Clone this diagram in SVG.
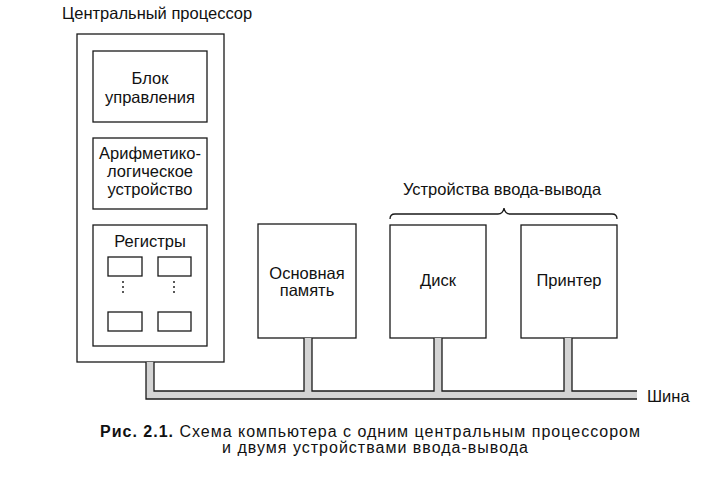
<svg xmlns="http://www.w3.org/2000/svg" width="724" height="484" viewBox="0 0 724 484">
<style>
.box{fill:#fff;stroke:#1a1a1a;stroke-width:1.3}
.t{font-family:"Liberation Sans",Arial,sans-serif;font-size:16.5px;fill:#111;text-anchor:middle}
.tl{font-family:"Liberation Sans",Arial,sans-serif;font-size:16.5px;fill:#111}
.cap{font-family:"Liberation Sans",Arial,sans-serif;font-size:16px;fill:#111}
.ln{fill:none;stroke:#1a1a1a;stroke-width:1.3}
.dot{fill:#222}
</style>
<rect width="724" height="484" fill="#fff"/>
<text class="tl" x="62" y="19">Центральный процессор</text>

<g id="cpu">
<rect class="box" x="77" y="34" width="147" height="328"/>
</g>
<g id="control-unit">
<rect class="box" x="93" y="51" width="114" height="71"/>
<text class="t" x="150" y="84">Блок</text>
<text class="t" x="150" y="103">управления</text>
</g>
<g id="alu">
<rect class="box" x="93" y="138" width="114" height="71"/>
<text class="t" x="150" y="159">Арифметико-</text>
<text class="t" x="150" y="177">логическое</text>
<text class="t" x="150" y="195">устройство</text>
</g>
<g id="registers">
<rect class="box" x="93" y="225" width="114" height="121"/>
<text class="t" x="150" y="247">Регистры</text>
<rect class="box" x="108" y="257" width="34" height="19"/>
<rect class="box" x="158" y="257" width="33" height="19"/>
<rect class="box" x="108" y="312" width="34" height="19"/>
<rect class="box" x="158" y="312" width="33" height="19"/>
<circle class="dot" cx="123" cy="282" r="1"/>
<circle class="dot" cx="123" cy="287" r="1"/>
<circle class="dot" cx="123" cy="292" r="1"/>
<circle class="dot" cx="174" cy="282" r="1"/>
<circle class="dot" cx="174" cy="287" r="1"/>
<circle class="dot" cx="174" cy="292" r="1"/>
</g>
<g id="memory">
<rect class="box" x="258" y="224" width="98" height="114"/>
<text class="t" x="307" y="279">Основная</text>
<text class="t" x="307" y="296">память</text>
</g>
<g id="disk">
<rect class="box" x="390" y="225" width="96" height="113"/>
<text class="t" x="438" y="286">Диск</text>
</g>
<g id="printer">
<rect class="box" x="521" y="225" width="96" height="113"/>
<text class="t" x="569" y="286">Принтер</text>
</g>
<g id="io-devices">
<text class="t" x="502" y="195">Устройства ввода-вывода</text>
<path class="ln" d="M390,219 Q390,214 395,214 L498,214 Q503,214 504,208 Q505,214 510,214 L612,214 Q617,214 617,219"/>
</g>

<g id="connectors">
<path d="M146,362 L146,399 L637,399 L637,391 L572,391 L572,338 L564,338 L564,391 L442,391 L442,338 L434,338 L434,391 L312,391 L312,338 L304,338 L304,391 L154,391 L154,362 Z" fill="#d4d4d4"/>
<path class="ln" d="M146,362 L146,399 L637,399"/>
<path class="ln" d="M154,362 L154,391 L304,391 L304,338 M312,338 L312,391 L434,391 L434,338 M442,338 L442,391 L564,391 L564,338 M572,338 L572,391 L637,391"/>
</g>
<text class="tl" x="647" y="402">Шина</text>

<text class="cap" x="100" y="437" textLength="540" lengthAdjust="spacing"><tspan font-weight="bold">Рис. 2.1.</tspan> Схема компьютера с одним центральным процессором</text>
<text class="cap" x="222" y="453" textLength="306" lengthAdjust="spacing">и двумя устройствами ввода-вывода</text>
</svg>
